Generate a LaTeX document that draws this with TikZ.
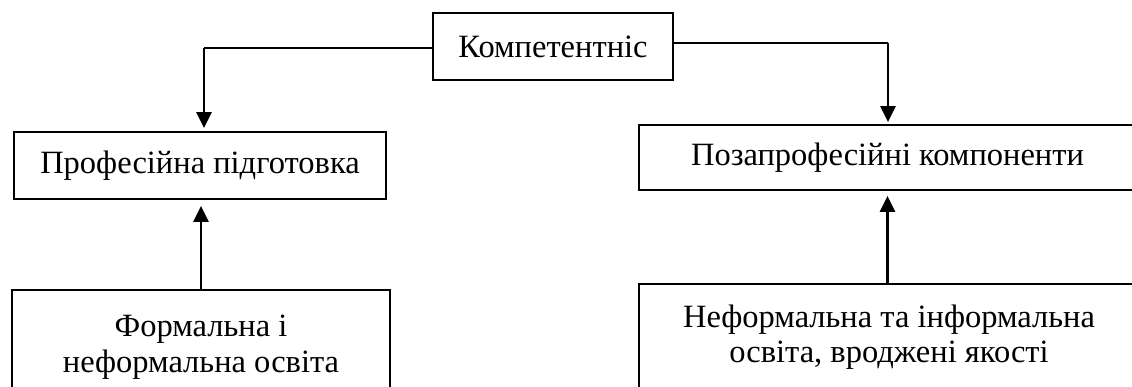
\documentclass[tikz,border=0pt]{standalone}
\usepackage{fontspec}
\setmainfont{Liberation Serif}
\usetikzlibrary{arrows.meta}

\begin{document}
\begin{tikzpicture}[x=1pt,y=-1pt,
    box/.style={draw,line width=1.8pt,inner sep=0pt,font=\fontsize{32.5}{35.5}\selectfont},
    txt/.style={inner sep=0pt,align=center,font=\fontsize{32.5}{35.5}\selectfont},
    link/.style={line width=1.4pt},
    arr/.style={line width=2.4pt,-{Triangle[length=16pt,width=15pt]}}]
\useasboundingbox (0,0) rectangle (1132,387);

% Top box
\node[box,minimum width=240pt,minimum height=67pt] (komp) at (553,46.5) {Компетентніс};

% Middle boxes
\node[box,minimum width=372pt,minimum height=67pt] (prof) at (200,165.5) {Професійна підготовка};
\node[box,minimum width=497pt,minimum height=65pt] (poza) at (887.5,157.5) {Позапрофесійні компоненти};

% Bottom boxes (cut by the page edge)
\node[box,minimum width=378pt,minimum height=130pt,anchor=north] (form) at (201,289) {};
\node[txt] (formtext) at (201,347) {Формальна і\\неформальна освіта};
\node[box,minimum width=497pt,minimum height=130pt,anchor=north] (neform) at (887.5,283) {};
\node[txt] (neformtext) at (889,337) {Неформальна та інформальна\\освіта, вроджені якості};

% Links from the top box
\coordinate (lbend) at (204,48);
\coordinate (rbend) at (888,43);
\draw[link] (komp.west |- lbend) -- (lbend);
\draw[arr,shorten >=3pt] (lbend) -- (lbend |- prof.north);
\draw[link] (komp.east |- rbend) -- (rbend);
\draw[arr,shorten >=2pt] (rbend) -- (rbend |- poza.north);

% Arrows up
\draw[arr,shorten >=6pt] (form.north) -- (form.north |- prof.south);
\draw[arr,shorten >=5pt] (neform.north) -- (neform.north |- poza.south);

\end{tikzpicture}
\end{document}
